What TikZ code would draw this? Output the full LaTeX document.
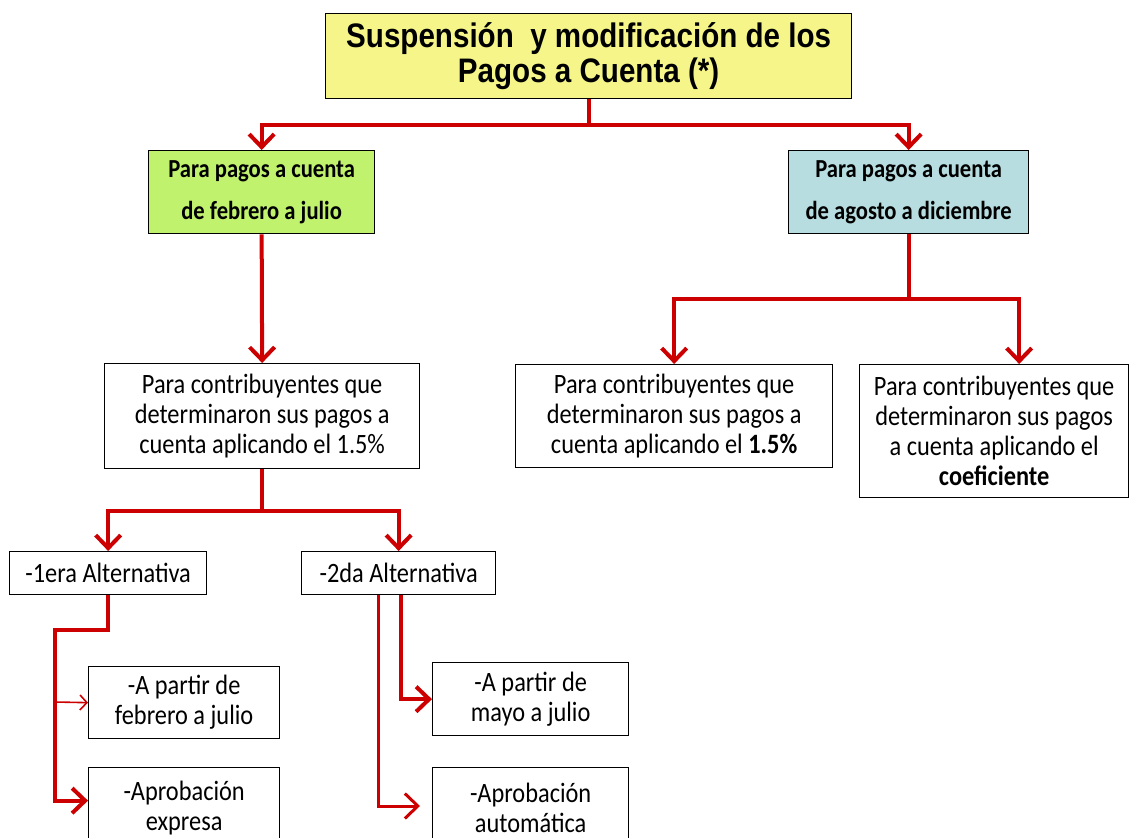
\documentclass[tikz,border=0pt]{standalone}
\usepackage{fontspec}
\setmainfont[FakeStretch=0.87]{Carlito}
\newfontfamily\titlefont[FakeStretch=0.87]{Liberation Sans}
\usetikzlibrary{arrows.meta,calc}

\definecolor{rojo}{RGB}{204,0,0}
\definecolor{amarillo}{RGB}{245,245,138}
\definecolor{verde}{RGB}{192,242,110}
\definecolor{celeste}{RGB}{183,221,224}

\tikzset{
	caja/.style={draw=black, line width=1.3pt, anchor=north west, inner sep=0pt,
		align=center, font=\fontsize{28}{30}\selectfont},
	cajaper/.style={caja, font=\bfseries\fontsize{26}{42}\selectfont},
	flecha/.style={draw=rojo, line width=4pt, line join=miter,
		-{Straight Barb[length=13pt,width=25pt]}},
	flechamed/.style={flecha, line width=3pt},
	flechafina/.style={draw=rojo, line width=1.6pt,
		-{Straight Barb[length=7pt,width=15pt]}}
}

\begin{document}
\begin{tikzpicture}[x=1pt,y=-1pt]
			%%%%% MARCO %%%%%
			\useasboundingbox (0,0) rectangle (1131,837);
			\clip (0,0) rectangle (1131,837);
			
			%%%%% CAJAS %%%%%
			\node[caja, fill=amarillo, minimum width=526pt, minimum height=85pt,
				font=\titlefont\bfseries\fontsize{34}{35}\selectfont] (titulo) at (325,13)
				{\raisebox{-3pt}{Suspensión\ \ y modificación de los}\\\raisebox{-3pt}{Pagos a Cuenta (*)}};
			
			\node[cajaper, fill=verde, minimum width=226pt, minimum height=83pt] (verde) at (148,150)
				{Para pagos a cuenta\\de febrero a julio};
			\node[cajaper, fill=celeste, minimum width=240pt, minimum height=83pt] (azul) at (788,150)
				{Para pagos a cuenta\\de agosto a diciembre};
			
			\node[caja, minimum width=315pt, minimum height=105pt] (c1) at (104,363)
				{Para contribuyentes que\\determinaron sus pagos a\\cuenta aplicando el 1.5\%};
			\node[caja, minimum width=317pt, minimum height=103pt] (c2) at (515,364)
				{Para contribuyentes que\\determinaron sus pagos a\\cuenta aplicando el \textbf{1.5\%}};
			\node[caja, minimum width=269pt, minimum height=133pt] (c3) at (859,364)
				{Para contribuyentes que\\determinaron sus pagos\\a cuenta aplicando el\\\textbf{coeficiente}};
			
			\node[caja, minimum width=197pt, minimum height=43pt] (alt1) at (9,551) {-1era Alternativa};
			\node[caja, minimum width=194pt, minimum height=43pt] (alt2) at (301,551) {-2da Alternativa};
			
			\node[caja, minimum width=191pt, minimum height=72pt] (a1) at (88,666) {-A partir de\\febrero a julio};
			\node[caja, minimum width=191pt, minimum height=80pt] (a2) at (88,767) {-Aprobación\\expresa};
			\node[caja, minimum width=196pt, minimum height=73pt] (b1) at (432,662) {-A partir de\\mayo a julio};
			\node[caja, minimum width=196pt, minimum height=80pt] (b2) at (432,767) {-Aprobación\\automática};
			
			%%%%% FLECHAS %%%%%
			\draw[flecha] (titulo.south) -- ++(0,26) -| (verde.north);
			\draw[flecha] (titulo.south) -- ++(0,26) -| (azul.north);
			
			\draw[flecha] (verde.south) -- (c1.north);
			\draw[flecha] (azul.south) -- ++(0,65) -| (c2.north);
			\draw[flecha] (azul.south) -- ++(0,65) -| ([xshift=25pt]c3.north);
			
			\draw[flecha] (c1.south) -- ++(0,42) -| (alt1.north);
			\draw[flecha] (c1.south) -- ++(0,42) -| (alt2.north);
			
			\coordinate (codo1) at (55,630);
			\coordinate (rama1) at (55,702);
			\draw[flecha] (alt1.south) |- (codo1) |- ([yshift=7pt]a2.west);
			\draw[flechafina] (rama1) -- (a1.west);
			
			\coordinate (fin2) at (420,806);
			\draw[flecha] ([xshift=2pt]alt2.south) |- (b1.west);
			\draw[flechamed] ([xshift=-20pt]alt2.south) |- (fin2);
			
		\end{tikzpicture}
\end{document}
